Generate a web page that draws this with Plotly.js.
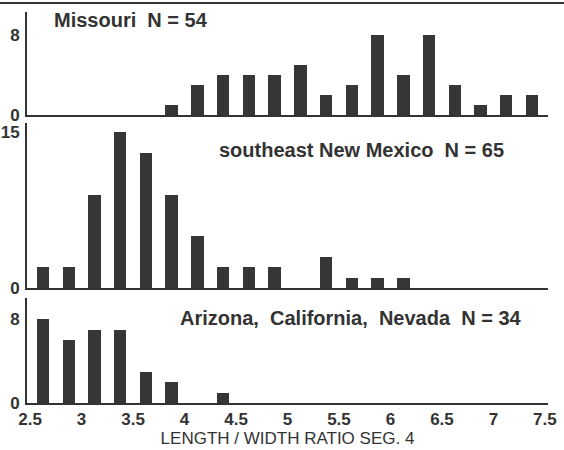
<!DOCTYPE html>
<html>
<head>
<meta charset="utf-8">
<script src="https://cdn.plot.ly/plotly-3.0.1.min.js"></script>
<style>html,body{margin:0;padding:0;background:#fff;}</style>
</head>
<body>
<div id="chart" style="width:564px;height:450px;"></div>
<script>
// Bin centres (length/width ratio, bin width 0.25)
var binCenters = [2.625, 2.875, 3.125, 3.375, 3.625, 3.875, 4.125, 4.375, 4.625, 4.875,
                  5.125, 5.375, 5.625, 5.875, 6.125, 6.375, 6.625, 6.875, 7.125, 7.375];
// Counts per bin
var missouri   = [0, 0, 0, 0, 0, 1, 3, 4, 4, 4, 5, 2, 3, 8, 4, 8, 3, 1, 2, 2];
var newMexico  = [2, 2, 9, 15, 13, 9, 5, 2, 2, 2, 0, 3, 1, 1, 1, 0, 0, 0, 0, 0];
var azCaNv     = [8, 6, 7, 7, 3, 2, 0, 1, 0, 0, 0, 0, 0, 0, 0, 0, 0, 0, 0, 0];
// Labels
var panelLabels = ["Missouri  N = 54", "southeast New Mexico  N = 65", "Arizona,  California,  Nevada  N = 34"];
var xTitle = "LENGTH / WIDTH RATIO SEG. 4";
var yTicks1 = [0, 8], yTicks2 = [0, 15], yTicks3 = [0, 8];
var xTickVals = [2.5, 3, 3.5, 4, 4.5, 5, 5.5, 6, 6.5, 7, 7.5];
var xTickText = ["2.5", "3", "3.5", "4", "4.5", "5", "5.5", "6", "6.5", "7", "7.5"];

var barColor = '#363636';
var ink = '#333333';
var FONT = 'Liberation Sans, Arial, sans-serif';

function barTrace(vals, xa, ya) {
  return {type: 'bar', x: binCenters, y: vals, xaxis: xa, yaxis: ya, width: 0.12,
          marker: {color: barColor, line: {width: 0}}, hoverinfo: 'x+y', showlegend: false};
}

var data = [
  barTrace(missouri, 'x', 'y'),
  barTrace(newMexico, 'x2', 'y2'),
  barTrace(azCaNv, 'x3', 'y3')
];

var xRange = [2.47, 7.53];
function xAxis(anchor, labels) {
  return {range: xRange, anchor: anchor, showline: true, linecolor: ink, linewidth: 2,
          showgrid: false, zeroline: false, ticks: '', tickvals: xTickVals, ticktext: xTickText,
          showticklabels: labels, tickfont: {family: FONT, size: 17, color: ink, weight: 'bold'}, fixedrange: true};
}
function yAxis(anchor, domain, range, tv) {
  return {domain: domain, range: range, anchor: anchor, showline: true, linecolor: ink, linewidth: 2,
          showgrid: false, zeroline: false, ticks: '', tickvals: tv, ticktext: tv.map(String),
          tickfont: {family: FONT, size: 17, color: ink, weight: 'bold'}, ticklabelstandoff: 2, fixedrange: true};
}

var x3 = xAxis('y3', true);
x3.title = {text: xTitle, font: {family: FONT, size: 17, color: ink}, standoff: 3};

var layout = {
  width: 564, height: 450,
  margin: {l: 27, r: 16, t: 12, b: 47},
  paper_bgcolor: '#ffffff', plot_bgcolor: '#ffffff',
  bargap: 0,
  xaxis: xAxis('y', false),
  xaxis2: xAxis('y2', false),
  xaxis3: x3,
  yaxis: yAxis('x', [0.7366, 1], [0, 10.3], yTicks1),
  yaxis2: yAxis('x2', [0.2941, 0.7161], [0, 15.9], yTicks2),
  yaxis3: yAxis('x3', [0, 0.2685], [0, 10], yTicks3),
  annotations: [
    {text: panelLabels[0], xref: 'paper', yref: 'paper', x: 0.1996, y: 0.9795, xanchor: 'center', yanchor: 'middle',
     showarrow: false, font: {family: FONT, size: 20, color: ink, weight: 'bold'}},
    {text: panelLabels[1], xref: 'paper', yref: 'paper', x: 0.642, y: 0.647, xanchor: 'center', yanchor: 'middle',
     showarrow: false, font: {family: FONT, size: 20, color: ink, weight: 'bold'}},
    {text: panelLabels[2], xref: 'paper', yref: 'paper', x: 0.6228, y: 0.217, xanchor: 'center', yanchor: 'middle',
     showarrow: false, font: {family: FONT, size: 20, color: ink, weight: 'bold'}}
  ],
  shapes: [
    {type: 'line', xref: 'paper', yref: 'paper', x0: -0.06, x1: 1.04, y0: 1.023, y1: 1.023,
     line: {color: ink, width: 2}}
  ]
};

Plotly.newPlot('chart', data, layout, {displayModeBar: false, staticPlot: true});
</script>
</body>
</html>
